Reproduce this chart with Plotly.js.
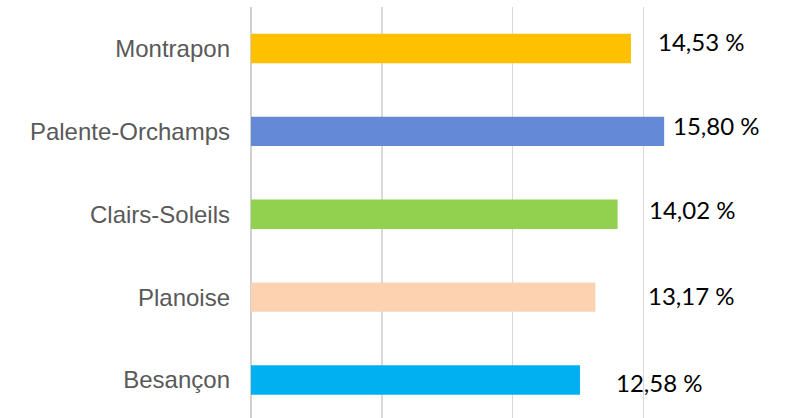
<!DOCTYPE html>
<html>
<head>
<meta charset="utf-8">
<script src="https://cdn.plot.ly/plotly-3.0.1.min.js"></script>
<style>html,body{margin:0;padding:0;background:#fff}#chart{width:787px;height:418px}</style>
</head>
<body>
<div id="chart"></div>
<script>
// Data (bottom to top)
const categories = ['Besançon', 'Planoise', 'Clairs-Soleils', 'Palente-Orchamps', 'Montrapon'];
const values = [12.58, 13.17, 14.02, 15.80, 14.53];
const barColors = ['#00B0F0', '#FDD2B0', '#92D050', '#6489D7', '#FFC000'];

// Label placement tweaks (pixels)
const labelShiftX = [34, 51, 29, 7, 25];
const labelShiftY = [-2, 2, 5, 6, 7];

const fmt = v => v.toFixed(2).replace('.', ',') + ' %';

const trace = {
  type: 'bar',
  orientation: 'h',
  y: categories,
  x: values,
  marker: {color: barColors},
  hoverinfo: 'none'
};

const annotations = categories.map((c, i) => ({
  x: values[i],
  y: c,
  xref: 'x',
  yref: 'y',
  text: fmt(values[i]),
  showarrow: false,
  xanchor: 'left',
  yanchor: 'middle',
  xshift: labelShiftX[i],
  yshift: labelShiftY[i],
  font: {family: 'Lato, "Open Sans", sans-serif', size: 24, color: '#000000'}
}));

const layout = {
  width: 787,
  height: 418,
  margin: {l: 251, r: 12.5, t: 6.5, b: 0, pad: 0},
  paper_bgcolor: '#ffffff',
  plot_bgcolor: '#ffffff',
  showlegend: false,
  bargap: 0.645,
  xaxis: {
    range: [0, 20],
    dtick: 5,
    showticklabels: false,
    showgrid: true,
    gridcolor: '#d9d9d9',
    gridwidth: 1.5,
    zeroline: true,
    zerolinecolor: '#d0d0d0',
    zerolinewidth: 1.5,
    showline: false,
    ticks: ''
  },
  yaxis: {
    type: 'category',
    range: [-0.458, 4.5],
    showgrid: false,
    zeroline: false,
    showline: false,
    ticks: '',
    ticklabelstandoff: 20,
    tickfont: {family: '"Liberation Sans", Arial, sans-serif', size: 24, color: '#595959'}
  },
  annotations: annotations
};

Plotly.newPlot('chart', [trace], layout, {displayModeBar: false, staticPlot: true});
</script>
</body>
</html>
